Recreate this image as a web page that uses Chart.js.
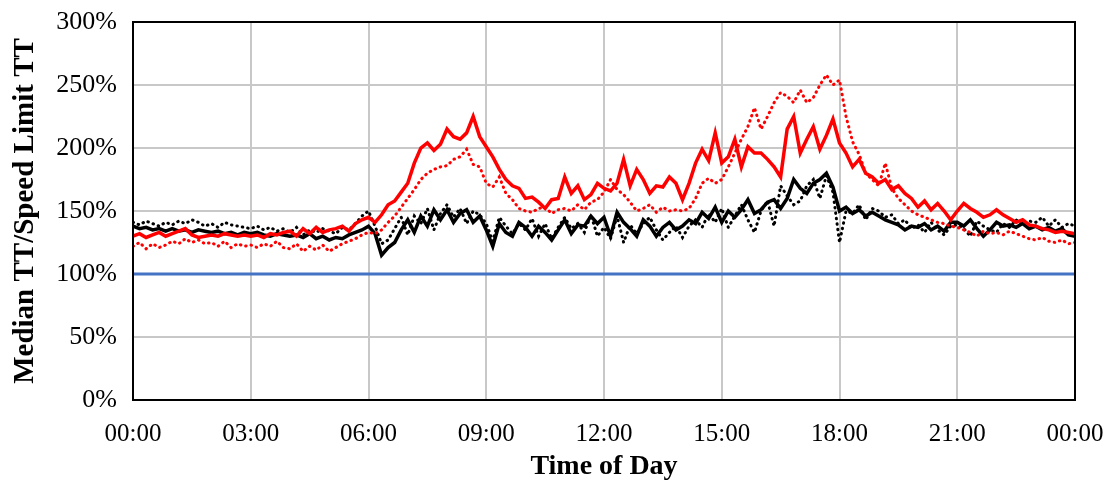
<!DOCTYPE html>
<html>
<head>
<meta charset="utf-8">
<script src="https://cdn.jsdelivr.net/npm/chart.js@4.4.1/dist/chart.umd.min.js"></script>
<style>
  html, body { margin: 0; padding: 0; background: #fff; }
  #wrap { width: 1109px; height: 484px; position: relative; }
</style>
</head>
<body>
<div id="wrap"><canvas id="tt_chart"></canvas></div>
<script>
// one value every 10 minutes, 00:00 .. 24:00 (145 values)
const stepMinutes = 10;
const xTickLabels = ["00:00", "03:00", "06:00", "09:00", "12:00", "15:00", "18:00", "21:00", "00:00"];

const redSolid = [
  130,132,129,131,133,130, 132,134,136,131,129,130, 131,130,132,131,130,131,
  130,131,129,132,131,133, 134,130,136,132,137,133, 135,136,138,134,140,143,
  145,141,147,155,158,165, 172,188,200,204,198,203, 215,209,207,212,225,209,
  201,193,183,175,170,168, 160,161,157,152,159,160, 177,164,170,159,163,172,
  168,166,172,191,170,183, 175,164,170,169,177,172, 159,172,188,199,190,212,
  188,193,207,185,201,196, 196,191,185,177,215,225, 196,207,217,199,210,223,
  204,196,185,191,180,177, 172,175,167,170,164,160, 153,158,151,156,150,143,
  150,156,152,149,145,147, 151,147,144,141,143,139, 138,136,135,133,134,133,
  132
];

const redDotted = [
  122,125,120,124,121,123, 126,124,128,125,127,124, 125,122,126,121,124,122,
  123,121,124,122,126,121, 120,124,118,122,119,123, 118,121,124,126,128,131,
  133,132,135,141,146,153, 160,167,175,180,183,185, 186,191,193,199,187,185,
  172,169,177,164,159,152, 150,149,152,153,148,151, 152,150,155,151,157,159,
  165,175,167,163,157,150, 152,155,149,153,150,151, 150,152,160,172,176,172,
  175,185,196,207,217,232, 215,225,236,244,241,236, 246,236,240,250,258,250,
  254,225,205,195,180,175, 170,188,168,160,155,150, 147,145,143,141,140,138,
  137,135,133,130,134,132, 133,131,134,132,130,128, 127,129,126,125,127,124,
  125
];

const blackSolid = [
  138,136,137,135,136,134, 136,134,135,133,135,134, 133,134,132,133,131,133,
  132,133,131,130,132,131, 130,131,129,132,128,130, 127,129,128,131,133,135,
  138,132,115,121,125,135, 143,133,146,138,151,143, 151,141,148,151,141,146,
  135,122,140,133,130,141, 137,130,138,133,127,135, 143,132,139,138,146,140,
  145,130,149,141,136,130, 143,138,130,137,141,135, 138,143,140,149,144,153,
  141,150,145,151,159,148, 151,157,159,152,160,175, 168,164,172,175,180,169,
  150,153,148,151,146,149, 146,143,141,139,135,138, 137,140,135,138,134,141,
  141,138,143,136,130,135, 141,138,139,137,140,136, 138,135,137,134,136,131,
  130
];

const blackDotted = [
  141,139,142,140,138,141, 139,142,140,143,141,138, 140,137,141,139,138,137,
  136,138,135,137,134,136, 133,137,131,135,133,136, 134,132,137,135,140,146,
  150,138,124,127,136,145, 131,146,140,152,135,148, 155,145,152,140,150,147,
  140,126,145,138,132,140, 135,144,130,140,128,137, 145,136,140,133,147,130,
  137,128,146,125,139,132, 140,145,135,127,133,138, 129,138,143,137,148,141,
  152,137,146,155,143,133, 150,158,138,170,162,155, 158,170,175,160,178,165,
  125,150,148,155,143,152, 150,145,147,140,143,136, 139,133,141,135,131,138,
  139,136,130,142,138,135, 133,140,137,143,139,142, 141,145,138,143,137,140,
  138
];

const speedLimitLine = [100, 100];

const serif = "'Liberation Serif', 'Times New Roman', serif";

const toPoints = (values) =>
  values.map((v, i) => ({ x: i * stepMinutes, y: v }));

const frame = {
  id: "frame",
  afterDraw(chart) {
    const { ctx, chartArea } = chart;
    ctx.save();
    ctx.strokeStyle = "#000";
    ctx.lineWidth = 2;
    ctx.strokeRect(chartArea.left, chartArea.top,
      chartArea.right - chartArea.left, chartArea.bottom - chartArea.top);
    ctx.restore();
  },
};

const lineSet = (label, values, color, dotted) => ({
  label,
  data: toPoints(values),
  borderColor: color,
  backgroundColor: color,
  borderWidth: dotted ? 3 : 3.5,
  borderDash: dotted ? [0.5, 5] : [],
  borderCapStyle: dotted ? "round" : "butt",
  pointRadius: 0,
  tension: 0,
});

const config = {
  type: "line",
  data: {
    datasets: [
      lineSet("Red solid", redSolid, "#ff0000", false),
      lineSet("Red dotted", redDotted, "#ff0000", true),
      lineSet("Black solid", blackSolid, "#000000", false),
      lineSet("Black dotted", blackDotted, "#000000", true),
      {
        label: "Speed limit",
        data: [{ x: 0, y: speedLimitLine[0] }, { x: 1440, y: speedLimitLine[1] }],
        borderColor: "#4472c4",
        borderWidth: 3,
        pointRadius: 0,
      },
    ],
  },
  options: {
    responsive: false,
    animation: false,
    layout: { padding: { top: 22, right: 34, left: 0, bottom: 0 } },
    plugins: { legend: { display: false }, tooltip: { enabled: false } },
    scales: {
      x: {
        type: "linear",
        min: 0,
        max: 1440,
        afterFit: (scale) => {
          scale.height = 84;
          scale.paddingLeft = 0;
          scale.paddingRight = 0;
        },
        ticks: {
          stepSize: 180,
          autoSkip: false,
          maxRotation: 0,
          padding: 19,
          color: "#000",
          font: { family: serif, size: 25 },
          callback: (v) => xTickLabels[v / 180],
        },
        grid: { color: "#c8c8c8", lineWidth: 2, drawTicks: false },
        border: { display: false },
        title: {
          display: true,
          text: "Time of Day",
          color: "#000",
          font: { family: serif, size: 28, weight: "bold" },
          padding: { top: 0, bottom: 0 },
        },
      },
      y: {
        min: 0,
        max: 300,
        afterFit: (scale) => {
          scale.width = 133;
          scale.paddingTop = 0;
          scale.paddingBottom = 0;
        },
        ticks: {
          stepSize: 50,
          padding: 16,
          color: "#000",
          font: { family: serif, size: 26 },
          callback: (v) => v + "%",
        },
        grid: { color: "#c8c8c8", lineWidth: 2, drawTicks: false },
        border: { display: false },
        title: {
          display: true,
          text: "Median TT/Speed Limit TT",
          color: "#000",
          font: { family: serif, size: 29, weight: "bold" },
          padding: { top: 8, bottom: 0 },
        },
      },
    },
  },
  plugins: [frame],
};

const canvas = document.getElementById("tt_chart");
canvas.width = 1109;
canvas.height = 484;
new Chart(canvas, config);
</script>
</body>
</html>
